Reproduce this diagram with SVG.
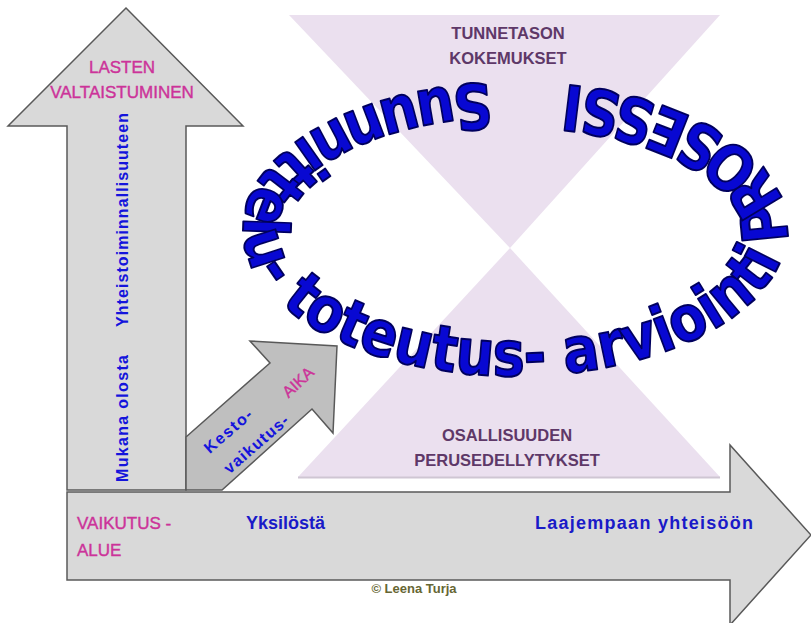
<svg xmlns="http://www.w3.org/2000/svg" width="811" height="623" viewBox="0 0 811 623">
<style>
.arrow{fill:#d9d9d9;stroke:#595959;stroke-width:1.5;stroke-linejoin:miter}
.arrow2{fill:#bfbfbf;stroke:#595959;stroke-width:1.5}
.tri{fill:#ebe0ef}
.mag{fill:#cc3399;stroke:#cc3399;stroke-width:0.4;font-family:"Liberation Sans",Arial,sans-serif;font-size:17px}
.blue{fill:#1414dc;font-family:"Liberation Sans",Arial,sans-serif;font-weight:bold;font-size:16px}
.dblue{fill:#1a1ac8;font-family:"Liberation Sans",Arial,sans-serif;font-weight:bold;font-size:18px}
.purp{fill:#5e3868;font-family:"Liberation Sans",Arial,sans-serif;font-weight:bold;font-size:16.5px;text-anchor:middle}
.ring{fill:#0808d2;stroke:#00005e;stroke-width:2;stroke-linejoin:round;font-family:"DejaVu Sans","Liberation Sans",sans-serif;font-weight:bold;font-size:63px}
</style>
<defs>
<path id="ell" d="M515,82 A272,147 0 0,0 515,376 A272,147 0 0,0 515,82"/>
</defs>
<rect width="811" height="623" fill="#ffffff"/>
<g id="triangle-top">
<polygon class="tri" points="289,15 720,15 510,248"/>
<text class="purp" x="508" y="39">TUNNETASON</text>
<text class="purp" x="508" y="64">KOKEMUKSET</text>
</g>
<g id="triangle-bottom">
<polygon class="tri" points="510,248 298,477 720,477"/>
<line x1="298" y1="477.5" x2="720" y2="477.5" stroke="#cfc6d3" stroke-width="2"/>
<text class="purp" x="507" y="441">OSALLISUUDEN</text>
<text class="purp" x="507" y="466">PERUSEDELLYTYKSET</text>
</g>
<g id="connectors">
<g id="arrow-horizontal">
<polygon class="arrow" points="67,492 730,492 730,445 811,535 730,625 730,580 67,580"/>
<text class="mag" x="77" y="529">VAIKUTUS -</text>
<text class="mag" x="77" y="556">ALUE</text>
<text class="dblue" x="246" y="529">Yksilöstä</text>
<text class="dblue" x="535" y="529" textLength="218" lengthAdjust="spacing">Laajempaan yhteisöön</text>
</g>
<g id="arrow-vertical">
<polygon class="arrow" points="126,8 243,126 186,126 186,490 67,490 67,126 8,126"/>
<text class="mag" x="122" y="73" text-anchor="middle">LASTEN</text>
<text class="mag" x="122" y="98" text-anchor="middle">VALTAISTUMINEN</text>
<text class="blue" transform="translate(128,327) rotate(-90)" textLength="214" lengthAdjust="spacing">Yhteistoiminnallisuuteen</text>
<text class="blue" transform="translate(128,482) rotate(-90)" textLength="127" lengthAdjust="spacing">Mukana olosta</text>
</g>
<g id="arrow-diagonal">
<polygon class="arrow2" points="186,437 270,363 250,341 337,346 333,433 312,409 222,490 186,490"/>
<text class="blue" text-anchor="middle" transform="translate(228,431) rotate(-41)" dy="0.35em" textLength="58" lengthAdjust="spacing">Kesto-</text>
<text class="blue" text-anchor="middle" transform="translate(256,444) rotate(-41)" dy="0.35em" textLength="80" lengthAdjust="spacing">vaikutus-</text>
<text class="mag" style="font-size:16px" text-anchor="middle" transform="translate(298,382) rotate(-43)" dy="0.35em">AIKA</text>
</g>
</g>
<g id="ring-text">
<text class="ring"><textPath href="#ell" startOffset="25" textLength="1270" lengthAdjust="spacingAndGlyphs">Suunnittelu- toteutus- arviointi PROSESSI</textPath></text>
</g>
<g id="copyright">
<text x="414" y="593" text-anchor="middle" style="fill:#666633;font-family:'Liberation Sans',Arial,sans-serif;font-weight:bold;font-size:13px">© Leena Turja</text>
</g>
</svg>
